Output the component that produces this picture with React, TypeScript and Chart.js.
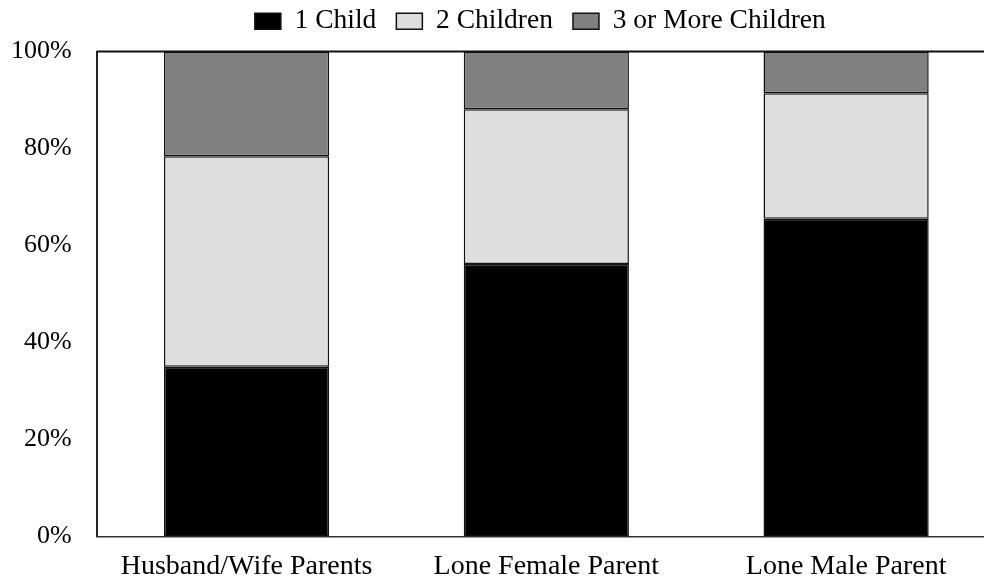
import React, { useEffect, useRef } from "react";
import { Chart, registerables } from "chart.js";

Chart.register(...registerables);

const categories = ["Husband/Wife Parents", "Lone Female Parent", "Lone Male Parent"];
const seriesNames = ["1 Child", "2 Children", "3 or More Children"];
const oneChild = [35.0, 56.2, 65.5];
const twoChildren = [43.4, 31.9, 25.9];
const threePlus = [21.6, 11.9, 8.6];
const seriesColors = ["#000000", "#dedede", "#808080"];
const yMin = 0;
const yMax = 100;
const yStep = 20;

const FONT = '"Liberation Serif", "Times New Roman", Times, serif';

const framePlugin = {
  id: "frame",
  beforeDraw(chart: any) {
    const lg = chart.legend;
    const ca = chart.chartArea;
    if (lg && ca) {
      lg.left = ca.left - 6;
      lg.right = ca.right - 6;
      lg.width = lg.right - lg.left;
      lg.top = -12.5;
    }
  },
  afterDatasetsDraw(chart: any) {
    const { ctx, chartArea: ca } = chart;
    ctx.save();
    ctx.strokeStyle = "#111";
    ctx.lineWidth = 2;
    ctx.beginPath();
    ctx.moveTo(ca.left, ca.top);
    ctx.lineTo(ca.right, ca.top);
    ctx.stroke();
    ctx.restore();
  },
};

export default function App() {
  const ref = useRef<HTMLCanvasElement | null>(null);

  useEffect(() => {
    if (!ref.current) return;
    const data = [oneChild, twoChildren, threePlus];
    const chart = new Chart(ref.current, {
      type: "bar",
      data: {
        labels: categories,
        datasets: data.map((d, i) => ({
          label: seriesNames[i],
          data: d,
          backgroundColor: seriesColors[i],
          borderColor: "#111",
          borderWidth: 1.5,
          borderSkipped: false,
          barPercentage: 0.551,
          categoryPercentage: 1,
        })),
      },
      options: {
        responsive: false,
        animation: false,
        layout: { padding: { left: -14, right: 4, top: -6, bottom: -12 } },
        plugins: {
          legend: {
            display: true,
            position: "top",
            labels: {
              boxWidth: 26,
              boxHeight: 16,
              padding: 20,
              color: "#000",
              font: { family: FONT, size: 27.5 },
            },
          },
          tooltip: { enabled: false },
        },
        scales: {
          x: {
            stacked: true,
            grid: { display: false, drawTicks: false },
            border: { display: true, color: "#333", width: 1.5 },
            ticks: { color: "#000", padding: 13, font: { family: FONT, size: 28 } },
          },
          y: {
            stacked: true,
            min: yMin,
            max: yMax,
            grid: { display: false, drawTicks: false },
            border: { display: true, color: "#222", width: 2 },
            ticks: {
              stepSize: yStep,
              color: "#000",
              padding: 25,
              font: { family: FONT, size: 26 },
              callback: (v: any) => v + "%",
            },
          },
        },
      },
      plugins: [framePlugin],
    });
    return () => chart.destroy();
  }, []);

  return (
    <div
      style={{
        position: "fixed",
        left: 0,
        top: 0,
        width: 984,
        height: 584,
        overflow: "hidden",
        background: "#fff",
      }}
    >
      <canvas ref={ref} width={1000} height={584} style={{ display: "block" }} />
    </div>
  );
}
